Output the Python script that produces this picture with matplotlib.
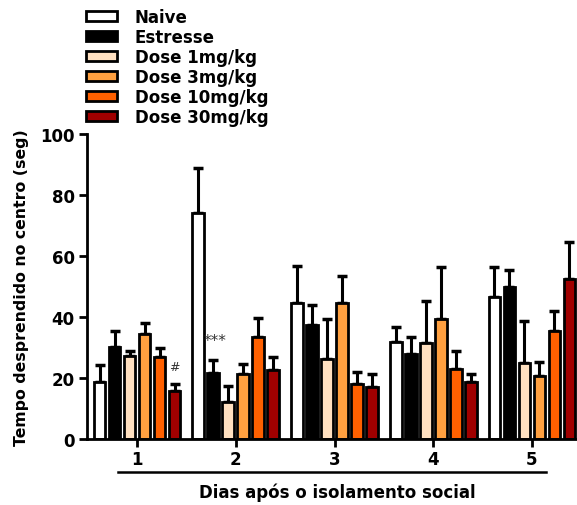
import numpy as np
import matplotlib
matplotlib.use("Agg")
import matplotlib.pyplot as plt
from matplotlib.lines import Line2D

plt.rcParams['font.family'] = ['DejaVu Sans']
plt.rcParams['font.weight'] = 'bold'

# data
days = [1, 2, 3, 4, 5]
groups = ["Naive", "Estresse", "Dose 1mg/kg", "Dose 3mg/kg", "Dose 10mg/kg", "Dose 30mg/kg"]
naive = [18.6, 74.0, 44.5, 31.9, 46.4]
naive_err = [5.7, 14.7, 12.3, 4.8, 9.9]
estresse = [30.3, 21.7, 37.3, 28.0, 49.9]
estresse_err = [5.1, 4.3, 6.6, 5.4, 5.5]
dose1 = [27.1, 12.0, 26.2, 31.4, 24.8]
dose1_err = [1.6, 5.4, 13.3, 13.8, 13.9]
dose3 = [34.3, 21.3, 44.5, 39.3, 20.8]
dose3_err = [3.7, 3.4, 8.8, 17.1, 4.3]
dose10 = [26.9, 33.5, 18.0, 23.0, 35.3]
dose10_err = [2.8, 6.2, 3.9, 5.9, 6.7]
dose30 = [15.6, 22.6, 17.0, 18.6, 52.5]
dose30_err = [2.3, 4.3, 4.4, 2.6, 12.2]

series = [naive, estresse, dose1, dose3, dose10, dose30]
errors = [naive_err, estresse_err, dose1_err, dose3_err, dose10_err, dose30_err]
colors = ["#FFFFFF", "#000000", "#FFE0C0", "#FFA040", "#FF6000", "#A00000"]

fig = plt.figure(figsize=(5.77, 5.06), dpi=100)
ax = fig.add_axes([0.1508, 0.1304, 0.8492, 0.6028])

pitch = 0.152
width = 0.118
x = np.array(days, dtype=float)
for i, (vals, errs, c) in enumerate(zip(series, errors, colors)):
    pos = x + (i - 2.5) * pitch
    ax.errorbar(pos, vals, yerr=[np.zeros(len(errs)), errs], fmt='none',
                ecolor='black', elinewidth=2.2, capsize=3.5, capthick=2.5, zorder=1)
    ax.bar(pos, vals, width=width, color=c, edgecolor='black', linewidth=2.0,
           label=groups[i], zorder=2)

# significance marks
ax.text(x[1] - 1.5 * pitch + 0.02, 30.0, "***", ha='center', va='bottom',
        fontsize=11, fontweight='normal', color='#333333')
ax.text(x[0] + 2.5 * pitch, 21.5, "#", ha='center', va='bottom',
        fontsize=9, fontweight='normal', color='#333333')

ax.set_xlim(0.493, 5.456)
ax.set_ylim(0, 100)
ax.set_yticks([0, 20, 40, 60, 80, 100])
ax.set_xticks(days)
ax.set_xticklabels([str(d) for d in days])
ax.tick_params(axis='both', which='major', labelsize=12, width=2, length=6,
               direction='out')
ax.tick_params(axis='x', pad=2)
ax.tick_params(axis='y', pad=3)
for s in ['top', 'right']:
    ax.spines[s].set_visible(False)
for s in ['left', 'bottom']:
    ax.spines[s].set_linewidth(2)
for lbl in ax.get_xticklabels() + ax.get_yticklabels():
    lbl.set_fontweight('bold')

ax.set_ylabel("Tempo desprendido no centro (seg)", fontsize=11.3, fontweight='bold',
              labelpad=8)

# line under the day labels, then the axis title
fig.add_artist(Line2D([118 / 577, 546 / 577], [1 - 473 / 506, 1 - 473 / 506],
                      color='black', linewidth=1.8))
fig.text(337 / 577, 1 - 493 / 506, "Dias após o isolamento social", ha='center',
         va='center', fontsize=12, fontweight='bold')

leg = ax.legend(loc='upper left', bbox_to_anchor=(74 / 577, 1.0 + 3 / 506),
                bbox_transform=fig.transFigure, frameon=False, fontsize=12,
                handlelength=1.86, handleheight=0.6, labelspacing=0.12,
                handletextpad=1.08, borderaxespad=0.3)
for t in leg.get_texts():
    t.set_fontweight('bold')

fig.savefig("out.png", dpi=100)
